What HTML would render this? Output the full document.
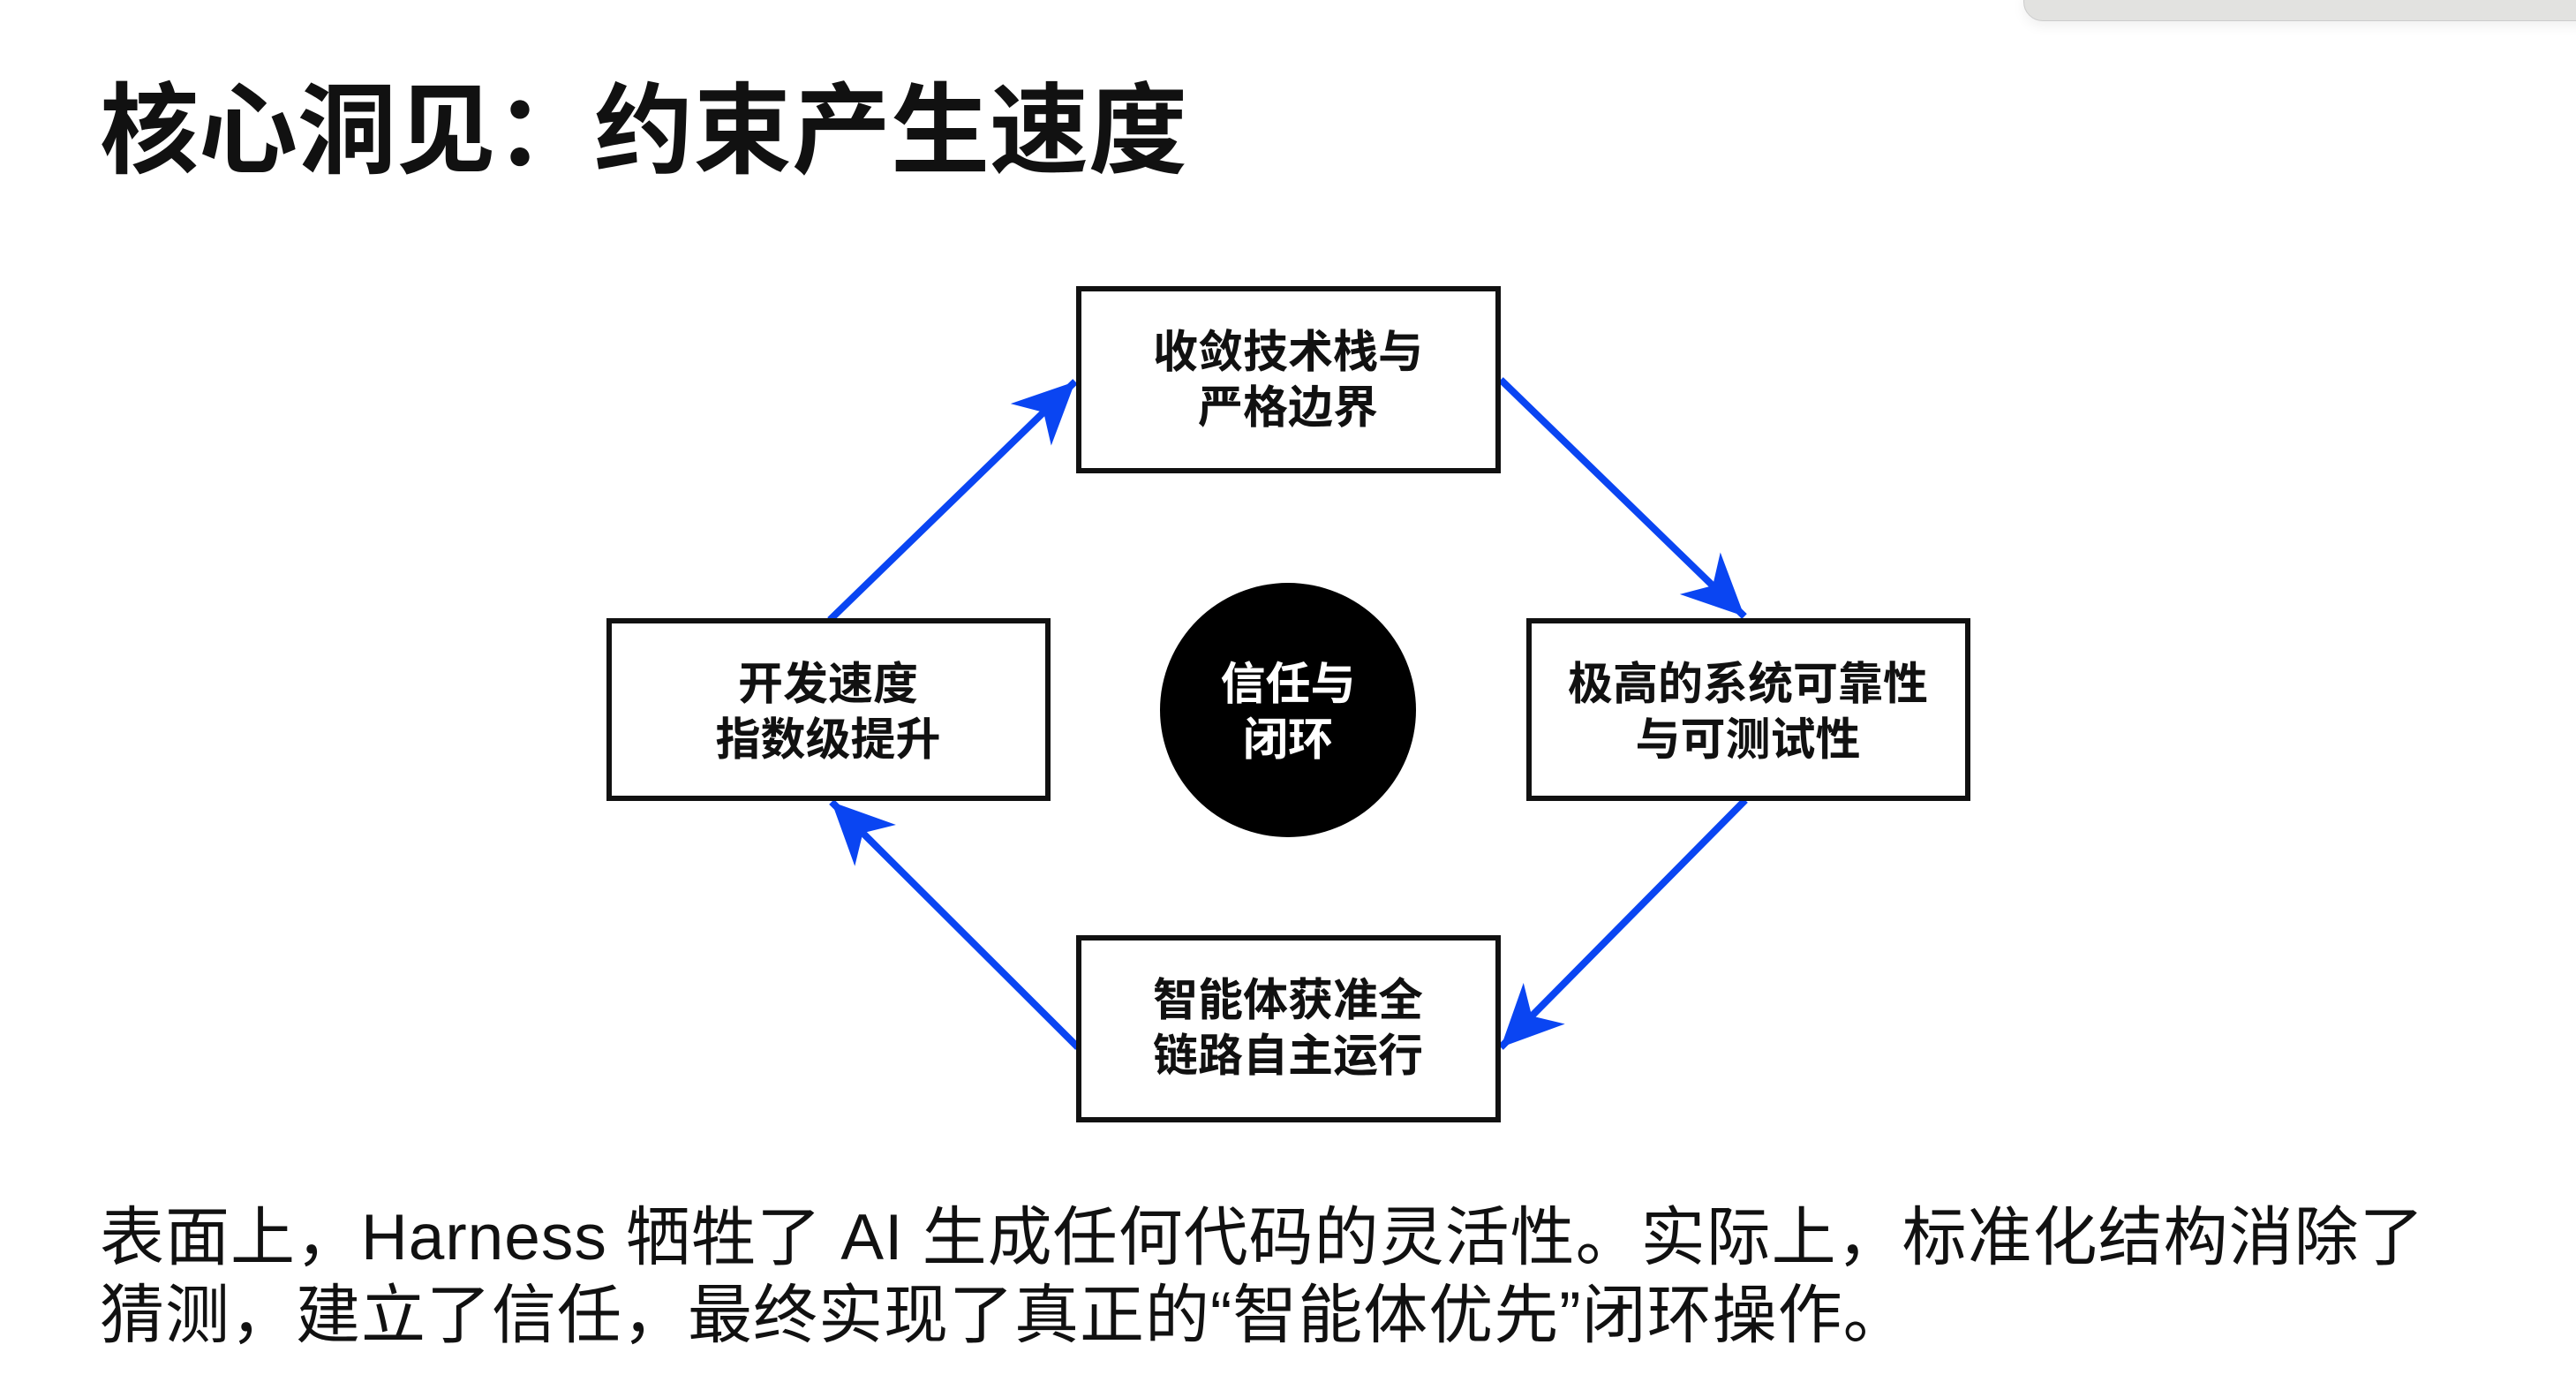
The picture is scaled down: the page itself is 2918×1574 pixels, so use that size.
<!DOCTYPE html>
<html><head><meta charset="utf-8"><style>
html,body{margin:0;padding:0;background:#fff;}
body{width:2918px;height:1574px;position:relative;overflow:hidden;font-family:"Liberation Sans","Noto Sans CJK SC",sans-serif;}
.title{position:absolute;left:113px;top:82px;font-size:112px;font-weight:700;color:#111;line-height:1.2;letter-spacing:0px;font-family:"Liberation Sans","Noto Sans CJK SC",sans-serif;}
.para{position:absolute;left:113px;top:1358px;font-size:73px;line-height:88px;color:#111;white-space:nowrap;letter-spacing:1px;font-family:"Liberation Sans","Noto Sans CJK SC",sans-serif;}
.bar{position:absolute;left:2292px;top:-20px;width:700px;height:42px;background:#e2e2e0;border-radius:22px;border:1px solid #ccc;box-shadow:0 6px 14px rgba(0,0,0,0.06);}
</style></head><body>
<div class="bar"></div>
<div class="title">核心洞见：约束产生速度</div>
<svg width="2918" height="1574" style="position:absolute;left:0;top:0">
<defs>
<marker id="ah" markerUnits="userSpaceOnUse" markerWidth="80" markerHeight="80" refX="0" refY="0" viewBox="-75 -40 80 80" orient="auto">
<path d="M0,0 L-70,-33 L-50,0 L-70,33 Z" fill="#0a45f2"/>
</marker>
</defs>
<g stroke="#0a45f2" stroke-width="8" fill="none">
<line x1="940" y1="702" x2="1218" y2="432" marker-end="url(#ah)"/>
<line x1="1700" y1="430" x2="1976" y2="698" marker-end="url(#ah)"/>
<line x1="1977" y1="906" x2="1700" y2="1186" marker-end="url(#ah)"/>
<line x1="1221" y1="1186" x2="942" y2="908" marker-end="url(#ah)"/>
</g>
<g fill="#fff" stroke="#111" stroke-width="6">
<rect x="1222" y="327" width="475" height="206"/>
<rect x="690" y="703" width="497" height="201"/>
<rect x="1732" y="703" width="497" height="201"/>
<rect x="1222" y="1062" width="475" height="206"/>
</g>
<ellipse cx="1459" cy="804" rx="145" ry="144" fill="#000"/>
<g font-family="Liberation Sans, Noto Sans CJK SC, sans-serif" font-size="51" font-weight="600" fill="#111" text-anchor="middle">
<text x="1459" y="416">收敛技术栈与</text>
<text x="1459" y="479">严格边界</text>
<text x="938" y="792">开发速度</text>
<text x="938" y="855">指数级提升</text>
<text x="1980" y="792">极高的系统可靠性</text>
<text x="1980" y="855">与可测试性</text>
<text x="1459" y="1150">智能体获准全</text>
<text x="1459" y="1213">链路自主运行</text>
<text x="1459" y="792" fill="#fff">信任与</text>
<text x="1459" y="855" fill="#fff">闭环</text>
</g>
</svg>
<div class="para">表面上，Harness 牺牲了 AI 生成任何代码的灵活性。实际上，标准化结构消除了<br>猜测，建立了信任，最终实现了真正的“智能体优先”闭环操作。</div>
</body></html>
